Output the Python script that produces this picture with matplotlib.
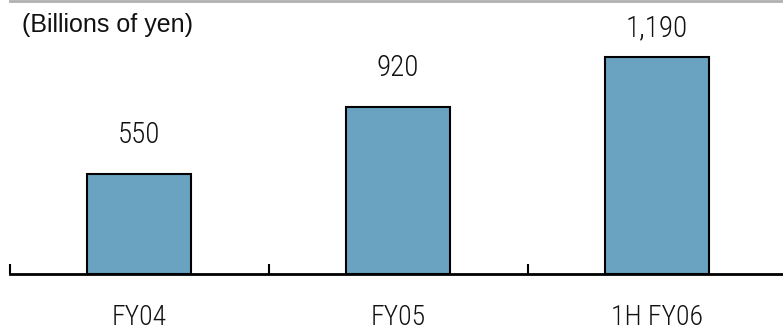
import matplotlib
matplotlib.use("Agg")
import matplotlib.pyplot as plt

categories = ["FY04", "FY05", "1H FY06"]
values = [550, 920, 1190]
value_labels = ["550", "920", "1,190"]

narrow = "Roboto Condensed"

fig = plt.figure(figsize=(7.83, 3.33), dpi=100)
W, H = 783, 333
left_px, right_px = 9.5, 786.5
bottom_px, top_px = 274, 1
ax = fig.add_axes([left_px / W, (H - bottom_px) / H,
                   (right_px - left_px) / W, (bottom_px - top_px) / H])

x = list(range(len(categories)))
ax.bar(x, values, width=0.40, color="#69a3c1", edgecolor="black", linewidth=1.5, zorder=2)
ax.set_xlim(-0.5, len(categories) - 0.5)
ax.set_ylim(0, 1500)

label_gap_px = [25, 25, 15]
for xi, v, lab, g in zip(x, values, value_labels, label_gap_px):
    ax.annotate(lab, (xi, v), xytext=(0, g * 0.72), textcoords="offset points",
                ha="center", va="bottom", fontsize=21, family=narrow, weight="light",
                color="#111111")

for s in ("left", "right"):
    ax.spines[s].set_visible(False)
ax.spines["bottom"].set_linewidth(2)
ax.spines["bottom"].set_color("black")
ax.spines["top"].set_linewidth(2)
ax.spines["top"].set_color("#b0b0b0")

ax.set_yticks([])
ax.set_xticks([-0.5, 0.5, 1.5], minor=False)
ax.set_xticklabels([])
ax.tick_params(axis="x", direction="in", length=7.5, width=1.5, color="black")
for xi, c in zip(x, categories):
    ax.text(xi, -(325 - bottom_px) / (bottom_px - top_px), c, transform=ax.get_xaxis_transform(),
            ha="center", va="baseline", fontsize=20, family=narrow, weight="light",
            color="#111111")

fig.text(22 / W, 1 - 25 / H, "(Billions of yen)", ha="left", va="center",
         fontsize=18, family="Liberation Sans", color="#111111")

fig.savefig("out.png", dpi=100)
